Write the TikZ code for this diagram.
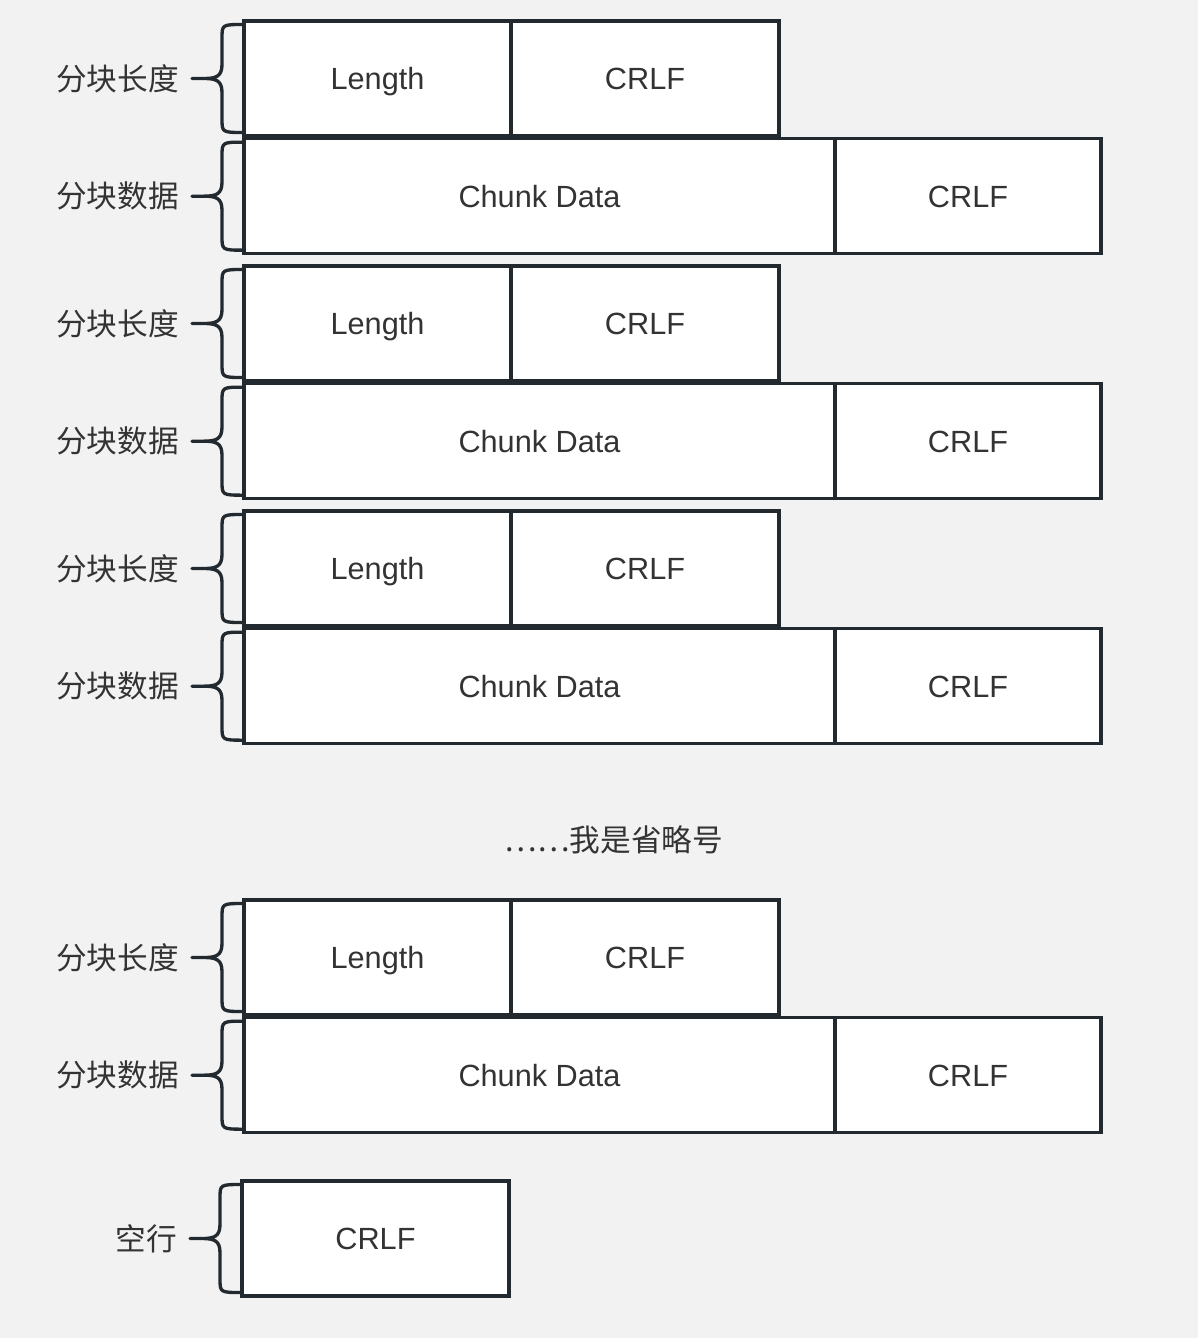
\documentclass[tikz,border=0pt]{standalone}
\usepackage{fontspec}
\setmainfont{Liberation Sans}
\newfontfamily\cjk{Noto Sans CJK SC}
\usetikzlibrary{positioning}

\definecolor{bgcol}{HTML}{F2F2F2}
\definecolor{edgecol}{HTML}{22292F}
\definecolor{txtcol}{HTML}{333333}

\tikzset{
  field/.style={draw=edgecol, fill=white, line width=2.5pt, minimum height=86.25pt,
    outer sep=0pt, inner sep=0pt, text=txtcol, text height=16.5pt, text depth=0pt,
    font=\fontsize{23}{27}\selectfont},
  curly/.style={draw=edgecol, line width=2.5pt, line cap=round, line join=round},
  tag/.style={text=txtcol, anchor=east, inner sep=0pt, font=\cjk\fontsize{23}{27}\selectfont}
}

% brace on the left side of a field, with its label
\newcommand{\sidebrace}[2]{%
  \begin{scope}[shift={(#1.west)}]
    \draw[curly] (0,-54) .. controls (-22,-54) .. (-22,-40) -- (-22,-14)
      .. controls (-22,-2) and (-28,0) .. (-40,0) -- (-52,0)
      (-40,0) .. controls (-28,0) and (-22,2) .. (-22,14) -- (-22,40)
      .. controls (-22,54) .. (0,54);
    \node[tag] (#1-tag) at (-65,0) {#2};
  \end{scope}}

\begin{document}
\begin{tikzpicture}[x=0.75pt, y=-0.75pt]
  \fill[bgcol] (0,0) rectangle (1198,1338);

  \foreach \i/\top in {1/21,2/266,3/511,4/900} {
    \node[field, minimum width=200.25pt, anchor=north west] (len\i) at (244,\top) {Length};
    \node[field, minimum width=201pt, right=0pt of len\i] (lenlf\i) {CRLF};
    \node[field, minimum width=443.25pt, anchor=north west] (data\i) at ([yshift=-2pt]len\i.south west) {Chunk Data};
    \node[field, minimum width=199.5pt, right=0pt of data\i] (datalf\i) {CRLF};
    \sidebrace{len\i}{分块长度}
    \sidebrace{data\i}{分块数据}
  }

  \node[text=txtcol, font=\cjk\fontsize{23}{27}\selectfont] (dots) at (614,840) {……我是省略号};

  \node[field, minimum width=200.25pt, anchor=north west] (blank) at (242,1181) {CRLF};
  \sidebrace{blank}{空行}
\end{tikzpicture}
\end{document}
